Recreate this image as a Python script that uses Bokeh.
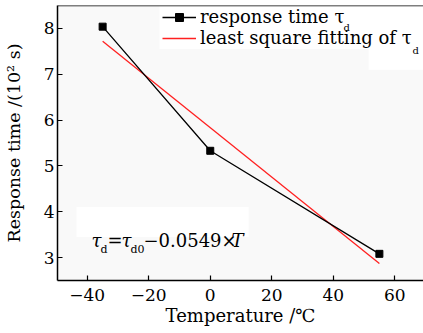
from bokeh.plotting import figure
from bokeh.models import Range1d, Legend, LegendItem, Label, Span, FixedTicker, BoxAnnotation
from bokeh.embed import file_html
from bokeh.resources import INLINE

temps = [-35, 0, 55]
resp = [8.04, 5.33, 3.08]
fit_x = [-35, 55]
fit_y = [7.72, 2.87]
x_ticks = [-40, -20, 0, 20, 40, 60]
y_ticks = [3, 4, 5, 6, 7, 8]

FONT = "DejaVu Serif"

p = figure(width=423, height=333, output_backend="svg", toolbar_location=None,
           x_range=Range1d(-49.68, 69.35), y_range=Range1d(2.498, 8.502),
           min_border_left=54, min_border_right=0, min_border_top=5, min_border_bottom=53)
p.background_fill_color = "#f9f9f9"
p.border_fill_color = "white"
p.outline_line_color = None
p.grid.visible = False

for ax in (p.xaxis[0], p.yaxis[0]):
    ax.axis_line_color = "black"
    ax.axis_line_width = 1.5
    ax.major_tick_in = 5
    ax.major_tick_out = 0
    ax.minor_tick_line_color = None
    ax.major_tick_line_width = 1.2
    ax.major_label_text_font = FONT
    ax.major_label_text_font_size = "17px"
    ax.major_label_text_color = "black"
    ax.axis_label_text_font = FONT
    ax.axis_label_text_font_style = "normal"
    ax.axis_label_text_color = "black"

p.xaxis.axis_label_text_font_size = "18px"
p.yaxis.axis_label_text_font_size = "17.5px"
p.xaxis.ticker = FixedTicker(ticks=x_ticks)
p.yaxis.ticker = FixedTicker(ticks=y_ticks)
p.xaxis.major_label_overrides = {t: str(t).replace("-", "\u2212") for t in x_ticks}
p.xaxis.axis_label = "Temperature /\u2103"
p.yaxis.axis_label = "Response time /(10\u00b2 s)"
p.xaxis.major_label_standoff = 8
p.yaxis.major_label_standoff = 3
p.xaxis.axis_label_text_line_height = 1.0
p.xaxis.major_label_text_line_height = 1.0
p.xaxis.axis_label_standoff = 1
p.yaxis.axis_label_standoff = 17

p.add_layout(Span(location=8.502, dimension="width", line_color="black", line_width=1.5))

# white boxes behind legend and annotation
p.add_layout(BoxAnnotation(left=-16.5, right=69.35, top=8.502, bottom=7.55,
                           fill_color="white", fill_alpha=1, line_color=None, level="underlay"))
p.add_layout(BoxAnnotation(left=51.5, right=69.35, top=7.6, bottom=7.1,
                           fill_color="white", fill_alpha=1, line_color=None, level="underlay"))
p.add_layout(BoxAnnotation(left=-43.5, right=12.5, top=4.1, bottom=3.45,
                           fill_color="white", fill_alpha=1, line_color=None, level="underlay"))

r_fit = p.line(fit_x, fit_y, line_color="#ff2020", line_width=1.3)
r_line = p.line(temps, resp, line_color="black", line_width=1.3)
r_pts = p.scatter(temps, resp, marker="square", size=7, fill_color="black", line_color="black")

legend = Legend(items=[LegendItem(label="response time \u03c4", renderers=[r_line, r_pts]),
                       LegendItem(label="least square fitting of \u03c4", renderers=[r_fit])],
                location=(105, 232), orientation="vertical",
                background_fill_color="white", background_fill_alpha=0,
                border_line_color=None, label_text_font=FONT, label_text_font_size="18px",
                label_text_color="black", glyph_width=34, glyph_height=20, label_height=20,
                label_standoff=4, spacing=-5, padding=4, margin=0)
p.add_layout(legend)

def lab(x, y, t, size="18px", style="normal", align="left"):
    p.add_layout(Label(x=x, y=y, x_units="screen", y_units="screen", text=t,
                       text_font=FONT, text_font_size=size, text_font_style=style,
                       text_color="black", text_baseline="alphabetic", text_align=align))

# legend subscripts
lab(286, 253, "d", size="10px")
lab(355, 230, "d", size="10px")

# annotation: tau_d = tau_d0 - 0.0549 x T
lab(34, 40, "\u03c4", style="italic")
lab(43, 31, "d", size="11px")
lab(50, 40, "=")
lab(64, 40, "\u03c4", style="italic")
lab(73, 31, "d0", size="11px")
lab(86, 40, "\u22120.0549\u00d7")
lab(174, 40, "T", style="italic")

html = file_html(p, INLINE)
open("out.html", "w").write(html)
